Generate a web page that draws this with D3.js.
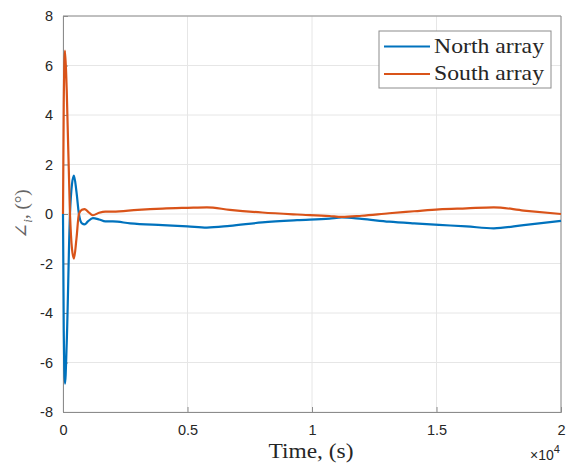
<!DOCTYPE html>
<html>
<head>
<meta charset="utf-8">
<script src="https://cdn.jsdelivr.net/npm/d3@7"></script>
<style>
  html, body { margin: 0; padding: 0; background: #fff; }
  svg { display: block; }
</style>
</head>
<body>
<svg id="chart" width="568" height="463"></svg>
<script>
// ---- data ----
const seriesNames = ["North array", "South array"];
const seriesColors = ["#0072BD", "#D95319"];

const northTime = [0, 30, 80, 150, 280, 360, 440, 540, 640, 760, 870, 1000, 1200, 1450, 1700, 2000, 2700, 4000, 5000, 5780, 6700, 8000, 9400, 10700, 11200, 12000, 13100, 14100, 15100, 16200, 17300, 18500, 20000];
const northValue = [0, -4.7, -6.85, -5.2, 0, 1.2, 1.55, 0.9, 0, -0.38, -0.42, -0.3, -0.17, -0.22, -0.3, -0.3, -0.38, -0.45, -0.5, -0.55, -0.48, -0.34, -0.25, -0.19, -0.14, -0.2, -0.31, -0.38, -0.44, -0.5, -0.58, -0.45, -0.28];

const southTime = [0, 30, 80, 150, 280, 360, 440, 540, 640, 760, 870, 1000, 1200, 1450, 1700, 2000, 3000, 4000, 5000, 5780, 6700, 8000, 9400, 10700, 11200, 12000, 13100, 14100, 15100, 16200, 17300, 18500, 20000];
const southValue = [0, 4.5, 6.6, 5.0, 0, -1.4, -1.8, -1.0, 0, 0.17, 0.2, 0.1, -0.05, 0.05, 0.1, 0.1, 0.17, 0.22, 0.25, 0.27, 0.17, 0.06, -0.02, -0.08, -0.12, -0.07, 0.03, 0.11, 0.19, 0.23, 0.27, 0.14, 0];

const xTicks = [0, 5000, 10000, 15000, 20000];
const xTickLabels = ["0", "0.5", "1", "1.5", "2"];
const yTicks = [-8, -6, -4, -2, 0, 2, 4, 6, 8];
const yTickLabels = ["-8", "-6", "-4", "-2", "0", "2", "4", "6", "8"];

// ---- layout ----
const svg = d3.select("#chart");
const padL = 63, padR = 561, padT = 16, padB = 412;

const x = d3.scaleLinear().domain([0, 20000]).range([padL, padR]);
const y = d3.scaleLinear().domain([-8, 8]).range([padB, padT]);

const gridColor = "#e6e6e6";
const axisColor = "#8c8c8c";
const textColor = "#262626";

// grid
svg.append("g").selectAll("line").data(xTicks).join("line")
  .attr("x1", d => x(d)).attr("x2", d => x(d))
  .attr("y1", padT).attr("y2", padB)
  .attr("stroke", gridColor).attr("stroke-width", 1);
svg.append("g").selectAll("line").data(yTicks).join("line")
  .attr("y1", d => y(d)).attr("y2", d => y(d))
  .attr("x1", padL).attr("x2", padR)
  .attr("stroke", gridColor).attr("stroke-width", 1);

// axes using d3 axis
const xAxis = d3.axisBottom(x).tickValues(xTicks)
  .tickFormat((d, i) => xTickLabels[i]).tickSize(-5).tickPadding(13);
const gx = svg.append("g").attr("transform", `translate(0,${padB})`).call(xAxis);
const yAxis = d3.axisLeft(y).tickValues(yTicks)
  .tickFormat((d, i) => yTickLabels[i]).tickSize(-5).tickPadding(10);
const gy = svg.append("g").attr("transform", `translate(${padL},0)`).call(yAxis);

[gx, gy].forEach(g => {
  g.select(".domain").attr("stroke", axisColor);
  g.selectAll(".tick line").attr("stroke", axisColor);
  g.selectAll(".tick text")
    .attr("fill", textColor)
    .style("font-family", "'Liberation Sans', Arial, sans-serif")
    .style("font-size", "14.5px");
});

// top and right box edges
svg.append("line").attr("x1", padL).attr("x2", padR).attr("y1", padT).attr("y2", padT)
  .attr("stroke", axisColor);
svg.append("line").attr("x1", padR).attr("x2", padR).attr("y1", padT).attr("y2", padB)
  .attr("stroke", axisColor);

// lines
const series = [
  { name: seriesNames[0], color: seriesColors[0], t: northTime, v: northValue },
  { name: seriesNames[1], color: seriesColors[1], t: southTime, v: southValue }
];
const line = d3.line().x(d => x(d[0])).y(d => y(d[1])).curve(d3.curveMonotoneX);
svg.append("g").selectAll("path").data(series).join("path")
  .attr("d", s => line(s.t.map((t, i) => [t, s.v[i]])))
  .attr("fill", "none")
  .attr("stroke", s => s.color)
  .attr("stroke-width", 2.2)
  .attr("stroke-linejoin", "round");

// exponent label
const ex = svg.append("text").attr("x", 530).attr("y", 460)
  .attr("fill", textColor)
  .style("font-family", "'Liberation Sans', Arial, sans-serif")
  .style("font-size", "14px");
ex.append("tspan").text("×10");
ex.append("tspan").attr("dy", -7).style("font-size", "11px").text("4");

// x label
svg.append("text").attr("x", 311).attr("y", 458).attr("text-anchor", "middle")
  .attr("fill", textColor)
  .attr("textLength", 85).attr("lengthAdjust", "spacingAndGlyphs")
  .style("font-family", "'Liberation Serif', 'DejaVu Serif', serif")
  .style("font-size", "21px")
  .text("Time, (s)");

// y label
const yl = svg.append("text")
  .attr("transform", `translate(28,${(padT + padB) / 2}) rotate(-90)`)
  .attr("text-anchor", "middle")
  .attr("fill", "#666")
  .style("font-family", "'Liberation Serif', 'DejaVu Serif', serif")
  .style("font-size", "19px");
yl.append("tspan").text("∠");
yl.append("tspan").attr("dy", 4).style("font-size", "13px").style("font-style", "italic").text("i");
yl.append("tspan").attr("dy", -4).text(", (°)");

// legend
const lg = svg.append("g");
lg.append("rect").attr("x", 379).attr("y", 31).attr("width", 172).attr("height", 57)
  .attr("fill", "#fff").attr("stroke", axisColor).attr("stroke-width", 1);
series.forEach((s, i) => {
  const yy = 46.5 + i * 27.5;
  lg.append("line").attr("x1", 384).attr("x2", 430).attr("y1", yy).attr("y2", yy)
    .attr("stroke", s.color).attr("stroke-width", 2.2);
  lg.append("text").attr("x", 434).attr("y", yy + 6)
    .attr("fill", textColor)
    .attr("textLength", 110).attr("lengthAdjust", "spacingAndGlyphs")
    .style("font-family", "'Liberation Serif', 'DejaVu Serif', serif")
    .style("font-size", "21px")
    .text(s.name);
});
</script>
</body>
</html>
